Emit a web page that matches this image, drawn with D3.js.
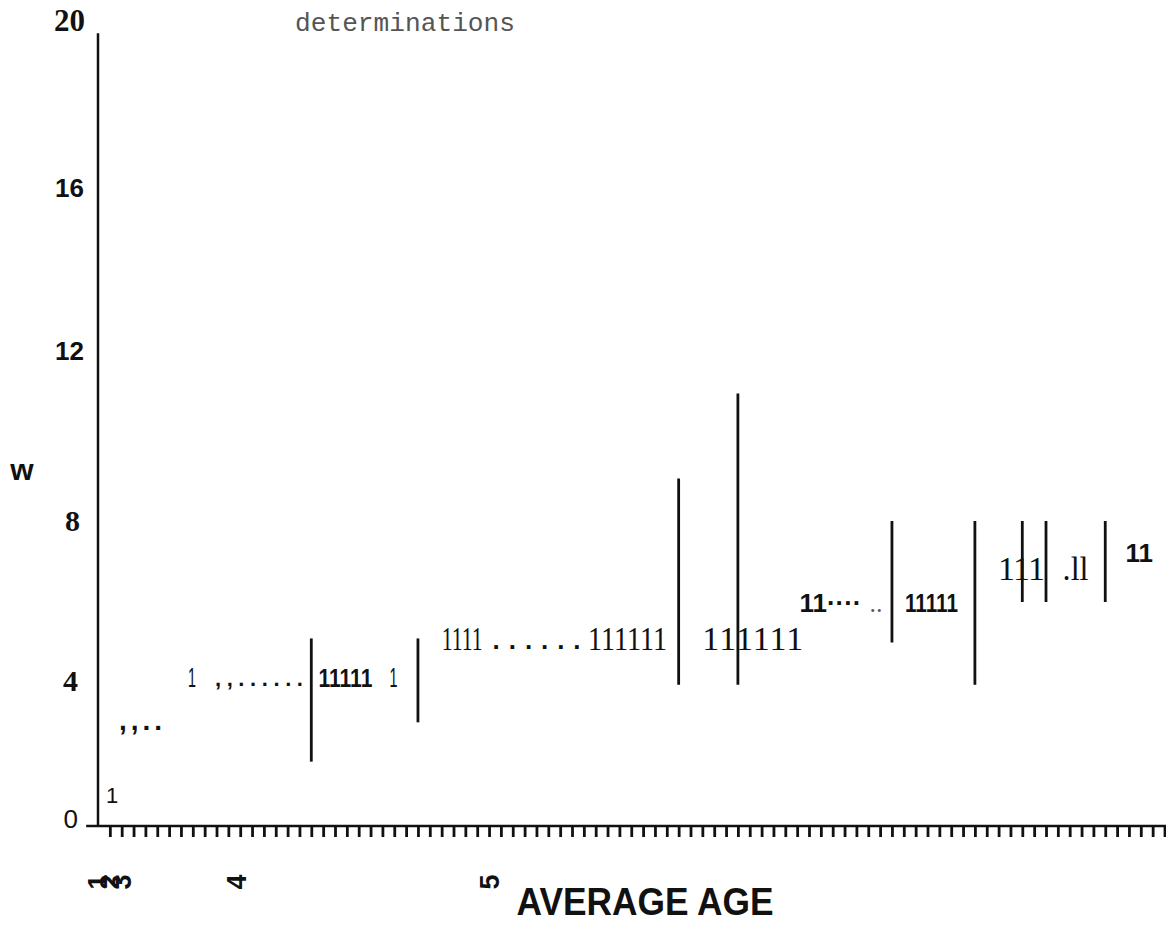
<!DOCTYPE html>
<html>
<head>
<meta charset="utf-8">
<script src="https://cdn.jsdelivr.net/npm/d3@7/dist/d3.min.js"></script>
<style>
  html, body { margin: 0; padding: 0; background: #fff; }
  svg { display: block; }
</style>
</head>
<body>
<div id="chart"></div>
<script>
// ---------------- data ----------------
// y-axis tick labels
const yTicks = [0, 4, 8, 12, 16, 20];
// x-axis tick positions (tick units) and the labels printed under some of them
const xTickCount = 90;
const xLabelText = ["1", "2", "3", "4", "5"];
const xLabelPos  = [0, 1, 2, 11.7, 33.1];
// vertical range bars: position (tick units), top value, bottom value
const barX      = [18, 27, 49, 54, 67, 74, 78, 80, 85];
const barTop    = [5.1, 5.1, 9, 11, 8, 8, 8, 8, 8];
const barBottom = [1.8, 2.9, 3.95, 3.95, 5, 3.95, 6, 6, 6];
// printed characters scattered across the plot (scan residue)
const annText = ["1", ",,..", "1", ",,......", "11111", "1", "1111", "......", "111111", "111111",
                 "11\u00b7\u00b7\u00b7\u00b7", "..", "11111", "111", ".ll", "11"];
const annX    = [0.68, 1.77, 7.6, 9.87, 18.6, 24.6, 29.0, 33.3, 41.35, 51.0, 59.2, 65.1, 68.1, 75.95, 81.4, 86.7];
const annY    = [0.64, 2.69, 3.89, 3.92, 3.89, 3.89, 4.81, 4.84, 4.81, 4.81, 5.75, 5.75, 5.75, 6.54, 6.54, 6.99];
const titleText = "determinations";
const yTitle = "w";
const xTitle = "AVERAGE  AGE";

// ---------------- layout / styles ----------------
const W = 1166, H = 941;
const SANS = "'Liberation Sans', Arial, Helvetica, sans-serif";
const SERIF = "'Liberation Serif', 'Times New Roman', serif";
const MONO = "'Liberation Mono', 'Courier New', monospace";

// len: target width; sq: squeeze glyphs to that width (horizontal scale), otherwise spread spacing
const annStyle = [
  {f: SANS,  s: 22, w: "normal"},
  {f: SANS,  s: 28, w: "bold", len: 43},
  {f: SANS,  s: 27, w: "normal", len: 8, sq: true},
  {f: SANS,  s: 22, w: "bold", len: 88},
  {f: SANS,  s: 26, w: "bold", len: 54, sq: true},
  {f: SANS,  s: 27, w: "normal", len: 8, sq: true},
  {f: SERIF, s: 34, w: "normal", len: 41, sq: true},
  {f: SANS,  s: 26, w: "bold", len: 88},
  {f: SERIF, s: 34, w: "normal", len: 79, sq: true},
  {f: SERIF, s: 34, w: "normal", len: 101},
  {f: SANS,  s: 26, w: "bold", len: 62},
  {f: SERIF, s: 26, w: "normal", len: 13, fill: "#555"},
  {f: SANS,  s: 26, w: "bold", len: 53, sq: true},
  {f: SERIF, s: 34, w: "normal", len: 47},
  {f: SERIF, s: 34, w: "normal", len: 26, sq: true},
  {f: SANS,  s: 26, w: "bold"}
];

const yTickStyle = {
  0:  {f: SANS,  s: 26, w: "normal", dx: -20, dy: -8},
  4:  {f: SERIF, s: 30, w: "bold",   dx: -20, dy: -3},
  8:  {f: SERIF, s: 30, w: "bold",   dx: -18, dy: -1},
  12: {f: SANS,  s: 26, w: "bold",   dx: -14, dy: -1},
  16: {f: SANS,  s: 26, w: "bold",   dx: -14, dy: 0},
  20: {f: SERIF, s: 31, w: "bold",   dx: -13, dy: -2}
};

const svg = d3.select("#chart").append("svg")
  .attr("width", W).attr("height", H)
  .attr("viewBox", `0 0 ${W} ${H}`);

const x = d3.scaleLinear().domain([0, xTickCount]).range([98, 98 + xTickCount * 11.85]);
const y = d3.scaleLinear().domain(yTicks).range([826, 683, 521, 351, 187, 22]);

const ink = "#111";

// y axis
const yAxis = d3.axisLeft(y).tickValues(yTicks).tickSize(0).tickPadding(0).tickFormat(d3.format("d"));
const gy = svg.append("g").attr("transform", `translate(${x(0)},0)`).call(yAxis);
gy.select(".domain").remove();
gy.selectAll(".tick text")
  .attr("fill", ink)
  .style("font-family", d => yTickStyle[d].f)
  .style("font-size", d => yTickStyle[d].s + "px")
  .style("font-weight", d => yTickStyle[d].w)
  .attr("x", d => yTickStyle[d].dx)
  .attr("dy", d => (yTickStyle[d].dy) + "px")
  .attr("dominant-baseline", "central");
svg.append("line")
  .attr("x1", x(0)).attr("x2", x(0))
  .attr("y1", y(0)).attr("y2", y(19.73))
  .attr("stroke", ink).attr("stroke-width", 2.5);

// x axis
const xAxis = d3.axisBottom(x).tickValues(d3.range(1, xTickCount + 1)).tickSize(11).tickFormat("");
const gx = svg.append("g").attr("transform", `translate(0,${y(0)})`).call(xAxis);
gx.select(".domain").remove();
gx.selectAll(".tick line").attr("stroke", ink).attr("stroke-width", 2.8);
svg.append("line")
  .attr("x1", x(-1)).attr("x2", W)
  .attr("y1", y(0)).attr("y2", y(0))
  .attr("stroke", ink).attr("stroke-width", 2.5);

// rotated x labels
svg.append("g").selectAll("text").data(xLabelText).join("text")
  .attr("transform", (d, i) => `translate(${x(xLabelPos[i])},${y(0) + 56}) rotate(-90)`)
  .attr("text-anchor", "middle")
  .attr("dominant-baseline", "central")
  .style("font-family", SANS).style("font-weight", "bold").style("font-size", "27px")
  .attr("fill", ink)
  .text(d => d);

// vertical bars
svg.append("g").selectAll("line").data(barX).join("line")
  .attr("x1", d => x(d)).attr("x2", d => x(d))
  .attr("y1", (d, i) => y(barTop[i])).attr("y2", (d, i) => y(barBottom[i]))
  .attr("stroke", ink).attr("stroke-width", 2.8);

// annotations
svg.append("g").selectAll("text").data(annText).join("text")
  .style("font-family", (d, i) => annStyle[i].f)
  .style("font-size", (d, i) => annStyle[i].s + "px")
  .style("font-weight", (d, i) => annStyle[i].w)
  .attr("fill", (d, i) => annStyle[i].fill || ink)
  .text(d => d)
  .each(function(d, i) {
    const st = annStyle[i];
    const el = d3.select(this);
    const px = x(annX[i]), py = y(annY[i]);
    if (st.len && st.sq) {
      const nat = this.getComputedTextLength();
      el.attr("transform", `translate(${px},${py}) scale(${st.len / nat},1)`);
    } else {
      el.attr("x", px).attr("y", py);
      if (st.len) el.attr("textLength", st.len).attr("lengthAdjust", "spacing");
    }
  });

// top fragment of text
svg.append("text")
  .attr("x", 295).attr("y", 31)
  .style("font-family", MONO).style("font-size", "26px")
  .attr("fill", "#555")
  .attr("textLength", 220).attr("lengthAdjust", "spacingAndGlyphs")
  .text(titleText);

// axis titles
svg.append("text")
  .attr("x", 22).attr("y", 480)
  .attr("text-anchor", "middle")
  .style("font-family", SANS).style("font-weight", "bold").style("font-size", "30px")
  .attr("fill", ink)
  .text(yTitle);

svg.append("text")
  .attr("x", 645).attr("y", 915)
  .attr("text-anchor", "middle")
  .style("font-family", SANS).style("font-weight", "bold").style("font-size", "38px")
  .attr("fill", ink)
  .attr("textLength", 257).attr("lengthAdjust", "spacingAndGlyphs")
  .text(xTitle);
</script>
</body>
</html>
